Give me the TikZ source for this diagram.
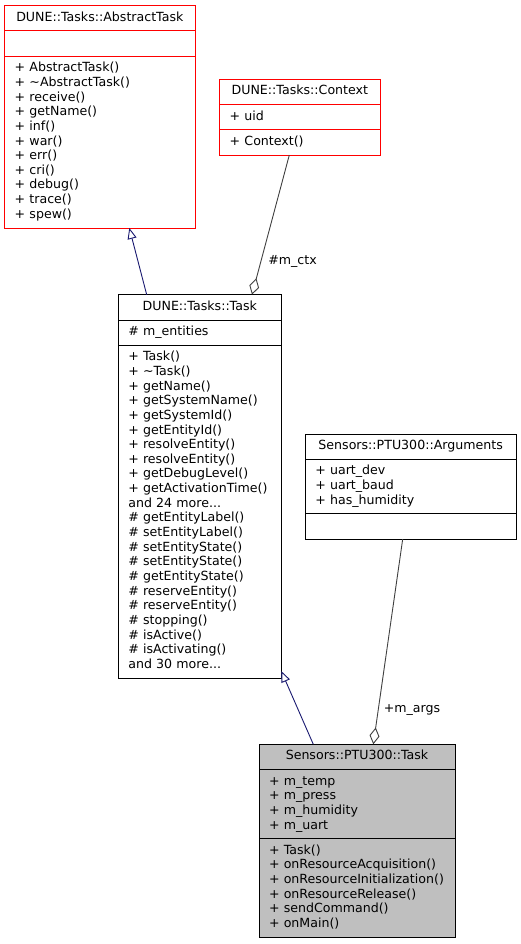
\documentclass[tikz,border=0pt]{standalone}
\usepackage{fontspec}
\setmainfont{DejaVu Sans}
\usetikzlibrary{positioning,arrows.meta}
\definecolor{edgeblue}{HTML}{191970}
\definecolor{edgegray}{HTML}{404040}
\definecolor{boxred}{HTML}{FF0000}
\definecolor{curfill}{HTML}{BFBFBF}
\tikzset{
  cls/.style={draw,rectangle,outer sep=0pt,inner xsep=10pt,inner ysep=5.3pt,line width=0.9pt,
    font=\fontsize{12.6}{14.65}\selectfont,execute at begin node=\strut,execute at end node=\strut},
  clshead/.style={cls,align=center,anchor=north west},
  clsbody/.style={cls,align=left},
  lbl/.style={font=\fontsize{12.6}{14.65}\selectfont,inner sep=0pt},
  gen/.style={edgeblue,line width=0.9pt,-{Triangle[open,length=11pt,width=9pt,fill=white]}},
  agg/.style={edgegray,line width=0.9pt,-{Diamond[open,length=17pt,width=10pt,fill=white]}}
}
\begin{document}
\begin{tikzpicture}[x=1pt,y=-1pt]
\useasboundingbox (0,0) rectangle (520,944);
\node[clshead,boxred,text=black,text width=170.3pt] (abs) at (4.7,5.7){DUNE::Tasks::AbstractTask};
\node[clsbody,boxred,text=black,text width=170.3pt,below=0pt of abs] (abs-a){};
\node[clsbody,boxred,text=black,text width=170.3pt,below=0pt of abs-a] (abs-o){+ AbstractTask()\\+ \textasciitilde AbstractTask()\\+ receive()\\+ getName()\\+ inf()\\+ war()\\+ err()\\+ cri()\\+ debug()\\+ trace()\\+ spew()};
\node[clshead,boxred,text=black,text width=140.3pt] (ctx) at (219.7,79.3){DUNE::Tasks::Context};
\node[clsbody,boxred,text=black,text width=140.3pt,below=0pt of ctx] (ctx-a){+ uid};
\node[clsbody,boxred,text=black,text width=140.3pt,below=0pt of ctx-a] (ctx-o){+ Context()};
\node[clshead,text width=143pt] (task) at (118.3,294.7){DUNE::Tasks::Task};
\node[clsbody,text width=143pt,below=0pt of task] (task-a){\# m\_entities};
\node[clsbody,text width=143pt,below=0pt of task-a] (task-o){+ Task()\\+ \textasciitilde Task()\\+ getName()\\+ getSystemName()\\+ getSystemId()\\+ getEntityId()\\+ resolveEntity()\\+ resolveEntity()\\+ getDebugLevel()\\+~getActivationTime()\\and 24 more...\\\# getEntityLabel()\\\# setEntityLabel()\\\# setEntityState()\\\# setEntityState()\\\# getEntityState()\\\# reserveEntity()\\\# reserveEntity()\\\# stopping()\\\# isActive()\\\# isActivating()\\and 30 more...};
\node[clshead,text width=190.7pt] (args) at (305.3,434){Sensors::PTU300::Arguments};
\node[clsbody,text width=190.7pt,below=0pt of args] (args-a){+ uart\_dev\\+ uart\_baud\\+ has\_humidity};
\node[clsbody,text width=190.7pt,below=0pt of args-a] (args-o){};
\node[clshead,fill=curfill,text width=176pt] (ptu) at (259,744.3){Sensors::PTU300::Task};
\node[clsbody,fill=curfill,text width=176pt,below=0pt of ptu] (ptu-a){+ m\_temp\\+ m\_press\\+ m\_humidity\\+ m\_uart};
\node[clsbody,fill=curfill,text width=176pt,below=0pt of ptu-a] (ptu-o){+ Task()\\+ onResourceAcquisition()\\+~onResourceInitialization()\\+ onResourceRelease()\\+ sendCommand()\\+ onMain()};
\draw[gen] ([xshift=28.4pt]task.north west) -- ([xshift=124.6pt]abs-o.south west);
\draw[agg] ([xshift=69.6pt]ctx-o.south west) -- ([xshift=133.7pt]task.north west);
\node[lbl] (ctx-lbl) at (292.5,261){\#m\_ctx};
\draw[gen] ([xshift=54.3pt]ptu.north west) -- ([yshift=7pt]task-o.south east);
\draw[agg] ([xshift=97.4pt]args-o.south west) -- ([xshift=114.3pt]ptu.north west);
\node[lbl] (args-lbl) at (412,710.5){+m\_args};
\end{tikzpicture}
\end{document}
